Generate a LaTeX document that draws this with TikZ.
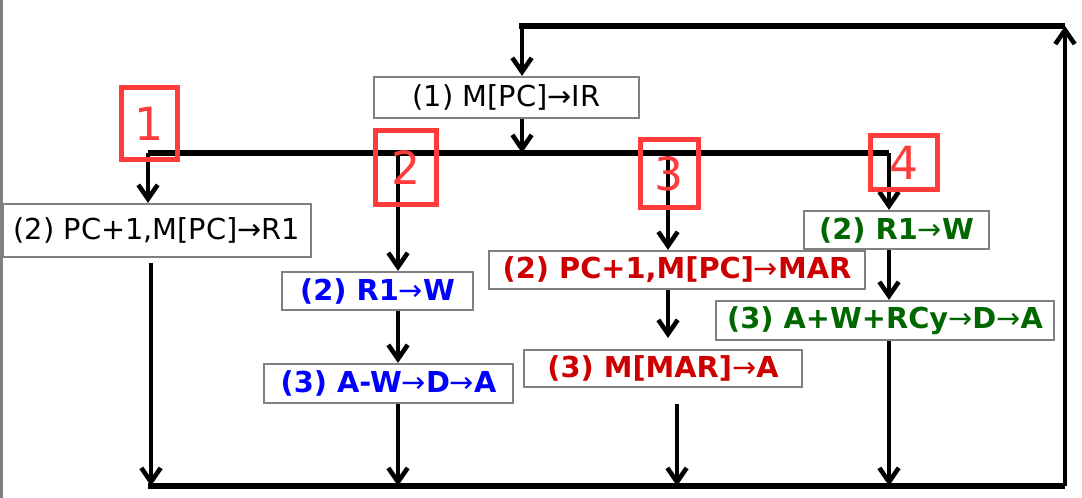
\documentclass[tikz,border=0pt]{standalone}
\usepackage{fontspec}
\setmainfont{DejaVu Sans}
\usepackage{xcolor}
\usetikzlibrary{arrows.meta}
\definecolor{stepred}{RGB}{204,0,0}
\definecolor{stepgreen}{RGB}{0,102,0}
\definecolor{stepblue}{RGB}{0,0,255}
\definecolor{numred}{RGB}{255,59,59}
\newcommand{\toarr}{\textmd{→}}

\begin{document}
\begin{tikzpicture}[x=0.01cm, y=-0.01cm,
  op/.style={draw=gray, line width=0.6pt, inner sep=0pt,
    font=\fontsize{8.2}{10}\selectfont},
  opb/.style={op, font=\fontsize{8.2}{10}\selectfont\bfseries},
  numbox/.style={draw=numred, line width=1.4pt, inner sep=0pt, text=numred,
    font=\fontsize{13}{15}\selectfont},
  bus/.style={line width=1.8pt},
  arr/.style={-{Straight Barb[length=4pt,width=5.5pt]}, line width=1.3pt}]
\useasboundingbox (0,0) rectangle (1082,498);
\draw[gray, line width=0.6pt] (1.5,0) -- (1.5,498);

\coordinate (topL) at (519,26);
\coordinate (topR) at (1065,26);
\coordinate (irin) at (522,26);
\coordinate (busL) at (148,153);
\coordinate (busR) at (889,153);
\coordinate (b2) at (398,153);
\coordinate (b3) at (668,153);
\coordinate (botL) at (148,486);
\coordinate (botR) at (1065,486);
\coordinate (r1out) at (151,263);
\coordinate (r3end) at (668,338);
\coordinate (r3start) at (677,404);

\node[op, minimum width=2.65cm, minimum height=0.41cm] (ir) at (506.5,97.5) {(1) M[PC]→IR};
\node[op, minimum width=3.08cm, minimum height=0.53cm] (r1) at (157,230.5) {(2) PC+1,M[PC]→R1};
\node[opb, text=stepblue, minimum width=1.91cm, minimum height=0.38cm] (bw1) at (377.5,291) {(2) R1\toarr W};
\node[opb, text=stepblue, minimum width=2.49cm, minimum height=0.39cm] (bw2) at (388.5,383.5) {(3) A-W\toarr D\toarr A};
\node[opb, text=stepred, minimum width=3.76cm, minimum height=0.38cm] (rm1) at (677,270) {(2) PC+1,M[PC]\toarr MAR};
\node[opb, text=stepred, minimum width=2.78cm, minimum height=0.37cm] (rm2) at (663,368.5) {(3) M[MAR]\toarr A};
\node[opb, text=stepgreen, minimum width=1.85cm, minimum height=0.38cm] (gw1) at (896.5,230) {(2) R1\toarr W};
\node[opb, text=stepgreen, minimum width=3.38cm, minimum height=0.39cm] (gw2) at (885,320.5) {(3) A+W+RCy\toarr D\toarr A};

\draw[bus] (topL) -- (topR);
\draw[arr] (irin) -- (irin |- ir.north);
\draw[arr] (ir.south -| irin) -- (irin |- busL);
\draw[bus] (busL) -- (busR);

\draw[arr] (busL) -- (busL |- r1.north);
\draw[arr] (r1out) -- (r1out |- botL);

\draw[arr] (b2) -- (b2 |- bw1.north);
\draw[arr] (bw1.south -| b2) -- (b2 |- bw2.north);
\draw[arr] (bw2.south -| b2) -- (b2 |- botL);

\draw[arr] (b3) -- (b3 |- rm1.north);
\draw[arr] (rm1.south -| b3) -- (r3end);
\draw[arr] (r3start) -- (r3start |- botL);

\draw[arr] (busR) -- (busR |- gw1.north);
\draw[arr] (gw1.south -| busR) -- (busR |- gw2.north);
\draw[arr] (gw2.south -| busR) -- (busR |- botL);

\draw[bus] (botL) -- (botR);
\draw[arr] (botR) -- (topR);

\node[numbox, minimum width=0.56cm, minimum height=0.72cm] (n1) at (149.5,123.5) {1};
\node[numbox, minimum width=0.61cm, minimum height=0.74cm] (n2) at (406,167.5) {2};
\node[numbox, minimum width=0.58cm, minimum height=0.68cm] (n3) at (669.5,173.5) {3};
\node[numbox, minimum width=0.67cm, minimum height=0.54cm] (n4) at (904,162.5) {4};
\end{tikzpicture}
\end{document}
